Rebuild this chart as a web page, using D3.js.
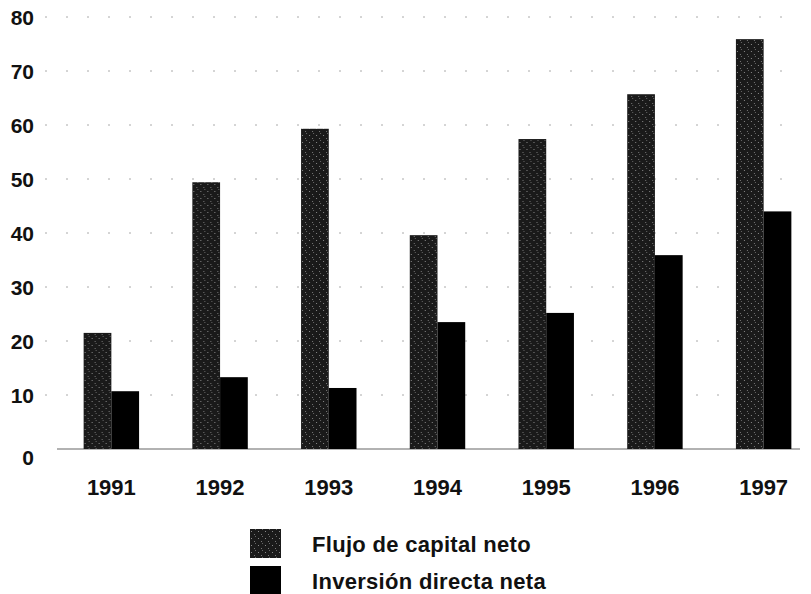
<!DOCTYPE html>
<html>
<head>
<meta charset="utf-8">
<script src="https://cdn.jsdelivr.net/npm/d3@7"></script>
<style>
  body { margin: 0; background: #fff; }
  text { font-family: "Liberation Sans", Arial, sans-serif; font-weight: bold; fill: #111; }
</style>
</head>
<body>
<div class="main"></div>
<script>
const years = ["1991", "1992", "1993", "1994", "1995", "1996", "1997"];
const flujo = [21.5, 49.4, 59.3, 39.6, 57.4, 65.7, 75.9];
const inversion = [10.7, 13.3, 11.3, 23.5, 25.2, 35.9, 44.0];
const seriesNames = ["Flujo de capital neto", "Inversión directa neta"];
const yTicks = [0, 10, 20, 30, 40, 50, 60, 70, 80];

const w = 811;
const h = 594;

const svg = d3.select(".main")
  .append("svg")
  .attr("width", w)
  .attr("height", h);

// speckled dark fill for the first series (looks like a scanned halftone)
const pat = svg.append("defs").append("pattern")
  .attr("id", "speckle")
  .attr("width", 7)
  .attr("height", 7)
  .attr("patternUnits", "userSpaceOnUse");
pat.append("rect").attr("width", 7).attr("height", 7).attr("fill", "#1a1a1a");
pat.append("rect").attr("x", 1).attr("y", 2).attr("width", 1).attr("height", 1).attr("fill", "#888");
pat.append("rect").attr("x", 4).attr("y", 5).attr("width", 1).attr("height", 1).attr("fill", "#777");
pat.append("rect").attr("x", 5).attr("y", 0).attr("width", 1).attr("height", 1).attr("fill", "#666");

const xScale = d3.scaleBand()
  .domain(years)
  .range([57, 818])
  .paddingInner(0.49)
  .paddingOuter(0.245);

const xSub = d3.scaleBand()
  .domain([0, 1])
  .range([0, xScale.bandwidth()]);

const yScale = d3.scaleLinear()
  .domain([0, 80])
  .range([449, 17]);

// faint dotted gridlines
svg.append("g")
  .selectAll("line")
  .data(yTicks.slice(1))
  .enter()
  .append("line")
  .attr("x1", 45)
  .attr("x2", 800)
  .attr("y1", (d) => yScale(d))
  .attr("y2", (d) => yScale(d))
  .attr("stroke", "#aaa")
  .attr("stroke-width", 1)
  .attr("stroke-dasharray", "2,19");

// baseline
svg.append("line")
  .attr("x1", 57)
  .attr("x2", 800)
  .attr("y1", yScale(0))
  .attr("y2", yScale(0))
  .attr("stroke", "#666")
  .attr("stroke-width", 1.2);

const rows = years.map((y, i) => ({ year: y, vals: [flujo[i], inversion[i]] }));

const groups = svg.selectAll(".grp")
  .data(rows)
  .enter()
  .append("g")
  .attr("class", "grp")
  .attr("transform", (d) => "translate(" + xScale(d.year) + ",0)");

groups.selectAll("rect")
  .data((d) => d.vals)
  .enter()
  .append("rect")
  .attr("x", (d, i) => xSub(i))
  .attr("y", (d) => yScale(d))
  .attr("width", xSub.bandwidth())
  .attr("height", (d) => yScale(0) - yScale(d))
  .attr("fill", (d, i) => i == 0 ? "url(#speckle)" : "#000");

// y labels (the zero sits a bit below the baseline in the original)
svg.append("g")
  .selectAll("text")
  .data(yTicks)
  .enter()
  .append("text")
  .attr("x", 34)
  .attr("y", (d) => yScale(d) + (d == 0 ? 8 : 0))
  .attr("dy", "0.36em")
  .attr("font-size", "21px")
  .style("text-anchor", "end")
  .text((d) => d);

// x labels
svg.append("g")
  .selectAll("text")
  .data(years)
  .enter()
  .append("text")
  .attr("x", (d) => xScale(d) + xScale.bandwidth() / 2)
  .attr("y", 495)
  .attr("font-size", "22px")
  .style("text-anchor", "middle")
  .text((d) => d);

// legend
const legend = svg.selectAll(".leg")
  .data(seriesNames)
  .enter()
  .append("g")
  .attr("class", "leg")
  .attr("transform", (d, i) => "translate(250," + (529 + i * 37) + ")");

legend.append("rect")
  .attr("width", 31)
  .attr("height", 29)
  .attr("fill", (d, i) => i == 0 ? "url(#speckle)" : "#000");

legend.append("text")
  .attr("x", 62)
  .attr("y", 23)
  .attr("font-size", "22px")
  .attr("letter-spacing", "0.3px")
  .text((d) => d);
</script>
</body>
</html>
